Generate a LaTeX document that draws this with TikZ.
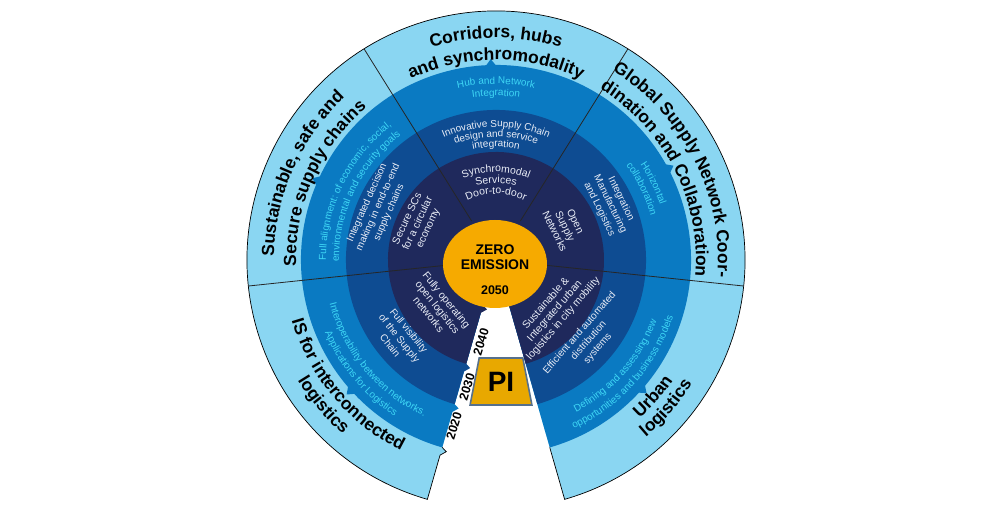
\documentclass[tikz,border=0pt]{standalone}
\usepackage{fontspec}
\setmainfont{Liberation Sans}
\usetikzlibrary{positioning,calc,decorations.text,shapes.geometric}
\definecolor{RingLight}{RGB}{138,214,242}
\definecolor{RingMid}{RGB}{10,122,194}
\definecolor{RingDark}{RGB}{14,76,146}
\definecolor{RingNavy}{RGB}{31,41,92}
\definecolor{ZeroOrange}{RGB}{246,170,0}
\definecolor{PiOrange}{RGB}{232,168,0}
\definecolor{PiEdge}{RGB}{86,112,140}
\definecolor{CyanInk}{RGB}{62,214,245}
\definecolor{PaleInk}{RGB}{232,236,246}
\newcommand\ttlfont{\fontsize{17.5}{17.5}\selectfont\bfseries}
\newcommand\cyanfont{\fontsize{10}{10}\selectfont\color{CyanInk}}
\newcommand\palefont{\fontsize{10}{10}\selectfont\color{PaleInk}}
\newcommand\navyfont{\fontsize{10.5}{10.5}\selectfont\color{PaleInk}}
\tikzset{
  rim/.style={draw=black,line width=0.7pt},
  divider/.style={draw=black!85,line width=0.8pt},
  along/.style={decorate,decoration={text along path,text align=center,text={#1}}},
  paletext/.style={font=\fontsize{10}{12}\selectfont,text=PaleInk,align=center,inner sep=0pt},
  navytext/.style={font=\fontsize{10.5}{11.5}\selectfont,text=PaleInk,align=center,inner sep=0pt},
  zerotext/.style={font=\fontsize{14}{14}\selectfont\bfseries,inner sep=0pt},
  yeartext/.style={font=\fontsize{12.5}{12.5}\selectfont\bfseries,inner sep=0pt,rotate=73},
}

\begin{document}
\begin{tikzpicture}[x=1pt,y=1pt]
  \useasboundingbox (-496,-250) rectangle (498,260);

  % Rings, outermost first; each one ends in a small tooth at the gap.
  \foreach \col/\ro/\ri in {RingLight/249/195,RingMid/195/150,RingDark/150/108,RingNavy/108/47}{
    \pgfmathsetmacro\ra{\ri+8}
    \pgfmathsetmacro\rb{\ri+3}
    \fill[\col] (0,0) -- (-74:\ro) arc[start angle=-74,end angle=254,radius=\ro]
      -- (254:\ra) -- ($(254:\rb)+(344:5)$) -- (254:\ri) -- cycle;
  }
  \draw[rim] (-74:195) -- (-74:249) arc[start angle=-74,end angle=254,radius=249]
    -- (254:203) -- ($(254:198)+(344:5)$) -- (254:195);

  % small tabs on the light/mid boundary
  \foreach \a in {91.5,156,28,222,-41.5}
    \fill[RingMid] ({\a-1.6}:194) -- (\a:201) -- ({\a+1.6}:194) -- cycle;

  \foreach \a in {58,122,186,354}
    \draw[divider] (\a:46) -- (\a:249);

  % centre
  \node[ellipse,fill=ZeroOrange,minimum width=104pt,minimum height=88pt,inner sep=0pt] (zero) at (-1,-4) {};
  \node[zerotext] (zeroa) at (-1,10) {ZERO};
  \node[zerotext] (zerob) at (-1,-5) {EMISSION};
  \node[zerotext,font=\fontsize{12.5}{12.5}\selectfont\bfseries] (zeroc) at (-1,-30) {2050};

  % Corridors, hubs and synchromodality
  \path[along={|\ttlfont|Corridors, hubs}] (140:222) arc[start angle=140,end angle=40,radius=222];
  \path[along={|\ttlfont|and synchromodality}] (140:200) arc[start angle=140,end angle=40,radius=200];
  \path[along={|\cyanfont|Hub and Network}] (140:176) arc[start angle=140,end angle=40,radius=176];
  \path[along={|\cyanfont|Integration}] (140:164) arc[start angle=140,end angle=40,radius=164];
  \path[along={|\palefont|Innovative Supply Chain}] (140:133) arc[start angle=140,end angle=40,radius=133];
  \path[along={|\palefont|design and service}] (140:123) arc[start angle=140,end angle=40,radius=123];
  \path[along={|\palefont|integration}] (140:113) arc[start angle=140,end angle=40,radius=113];
  \path[along={|\navyfont|Synchromodal}] (140:88) arc[start angle=140,end angle=40,radius=88];
  \path[along={|\navyfont|Services}] (140:77) arc[start angle=140,end angle=40,radius=77];
  \path[along={|\navyfont|Door-to-door}] (140:66) arc[start angle=140,end angle=40,radius=66];

  % Sustainable, safe and secure supply chains
  \path[along={|\ttlfont|Sustainable, safe and}] (206:222) arc[start angle=206,end angle=106,radius=222];
  \path[along={|\ttlfont|Secure supply chains}] (206:200) arc[start angle=206,end angle=106,radius=200];
  \path[along={|\cyanfont|Full alignment: of economic, social,}] (204:170) arc[start angle=204,end angle=104,radius=170];
  \path[along={|\cyanfont|environmental and security goals}] (204:157) arc[start angle=204,end angle=104,radius=157];
  \node[paletext,rotate=66] (integrated) at (156:129) {Integrated decision\\making in end-to-end\\supply chains};
  \node[navytext,rotate=65] (secure) at (155:86) {Secure SCs\\for a circular\\economy};

  % Global supply network coordination
  \path[along={|\ttlfont|Global Supply Network Coor-}] (77:222) arc[start angle=77,end angle=-23,radius=222];
  \path[along={|\ttlfont|dination and Collaboration}] (77:200) arc[start angle=77,end angle=-23,radius=200];
  \path[along={|\cyanfont|Horizontal}] (76:173) arc[start angle=76,end angle=-24,radius=173];
  \path[along={|\cyanfont|collaboration}] (76:161) arc[start angle=76,end angle=-24,radius=161];
  \node[paletext,rotate=-64] (manufacturing) at (26:127) {Integration\\Manufacturing\\and Logistics};
  \node[navytext,rotate=-64] (open) at (26:77) {Open\\Supply\\Networks};

  % IS for interconnected logistics
  \path[along={|\ttlfont|IS for interconnected}] (170:213) arc[start angle=170,end angle=270,radius=213];
  \path[along={|\ttlfont|logistics}] (170:232) arc[start angle=170,end angle=270,radius=232];
  \path[along={|\cyanfont|Interoperability between networks.}] (170:172) arc[start angle=170,end angle=270,radius=172];
  \path[along={|\cyanfont|Applications for Logistics}] (170:186) arc[start angle=170,end angle=270,radius=186];
  \node[paletext,rotate=-51] (visibility) at (219:124) {Full visibility\\of the Supply\\Chain};
  \node[navytext,rotate=-51] (operating) at (219:75) {Fully operating\\open logistics\\networks};

  % Urban logistics
  \path[along={|\ttlfont|Urban}] (-91:214) arc[start angle=-91,end angle=9,radius=214];
  \path[along={|\ttlfont|logistics}] (-91:232) arc[start angle=-91,end angle=9,radius=232];
  \path[along={|\cyanfont|Defining and assessing new}] (-91.5:172) arc[start angle=-91.5,end angle=8.5,radius=172];
  \path[along={|\cyanfont|opportunities and business models}] (-91.5:186) arc[start angle=-91.5,end angle=8.5,radius=186];
  \node[paletext,rotate=49] (efficient) at (-41:123) {Efficient and automated\\distribution\\systems};
  \node[navytext,rotate=49] (mobility) at (-41:78) {Sustainable \&\\Integrated urban\\logistics in city mobility};

  % time line in the gap
  \node[yeartext] (y2040) at (-15,-82) {2040};
  \node[yeartext] (y2030) at (-29,-127) {2030};
  \node[yeartext] (y2020) at (-42,-166) {2020};
  \node[trapezium,trapezium angle=74,trapezium stretches=true,minimum width=62pt,minimum height=47pt,
    fill=PiOrange,draw=PiEdge,line width=1.6pt,inner sep=0pt,
    font=\fontsize{28}{28}\selectfont\bfseries] (pi) at (5,-121.5) {PI};
\end{tikzpicture}
\end{document}
